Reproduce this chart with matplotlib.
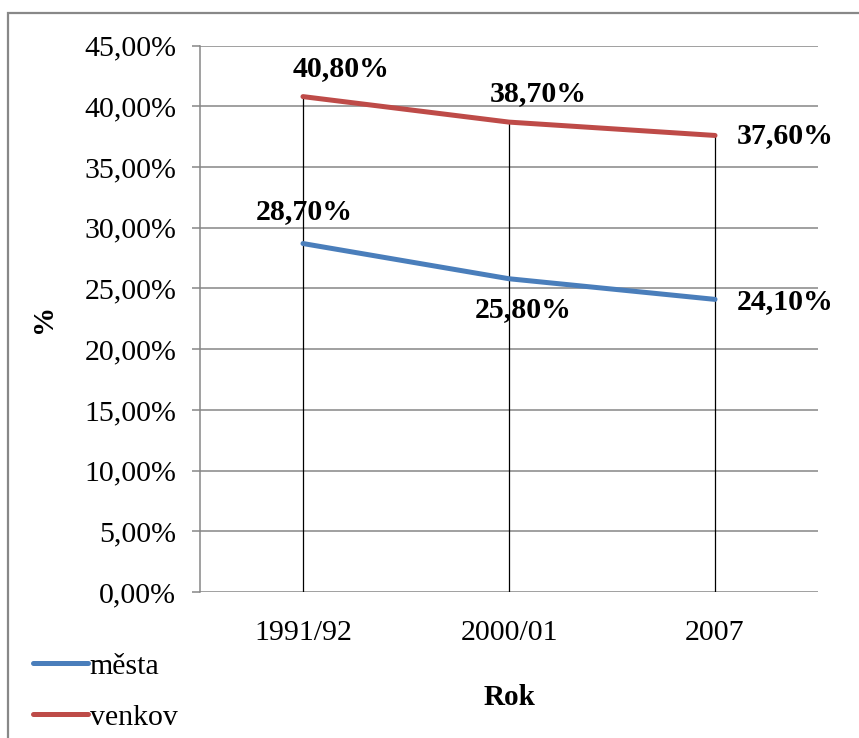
import matplotlib.pyplot as plt
from matplotlib.ticker import FuncFormatter, MultipleLocator
from matplotlib.patches import Rectangle

# data
years = ["1991/92", "2000/01", "2007"]
mesta = [28.7, 25.8, 24.1]
venkov = [40.8, 38.7, 37.6]

blue = "#4A7EBB"
red = "#BE4B48"

plt.rcParams['font.family'] = ['Liberation Serif', 'DejaVu Serif']

fig = plt.figure(figsize=(8.59, 7.38), dpi=100)
ax = fig.add_axes([0.2328, 0.1978, 0.7195, 0.7404])

x = list(range(len(years)))

#drop lines from points down to zero
for i in x:
    ax.plot([i, i], [0, venkov[i]], color="black", lw=0.9, zorder=2)

l1, = ax.plot(x, mesta, color=blue, lw=3.6, solid_capstyle='round', zorder=3)
l2, = ax.plot(x, venkov, color=red, lw=3.6, solid_capstyle='round', zorder=3)

ax.set_xlim(-0.5, 2.5)
ax.set_ylim(0, 45)
ax.yaxis.set_major_locator(MultipleLocator(5))
ax.yaxis.set_major_formatter(FuncFormatter(lambda v, p: f"{v:.2f}%".replace('.', ',')))
ax.set_xticks(x)
ax.set_xticklabels(years)

ax.grid(axis='y', color="#868686", lw=1.1)
ax.set_axisbelow(True)
for s in ["top", "right", "bottom"]:
    ax.spines[s].set_visible(False)
ax.spines["left"].set_color("#868686")
ax.spines["left"].set_linewidth(1.1)
ax.tick_params(axis='y', length=6, color="#868686", width=1.1, pad=11, labelsize=21.5)
ax.tick_params(axis='x', length=0, pad=20, labelsize=21.5)

ax.set_xlabel("Rok", fontsize=21, fontweight='bold')
ax.xaxis.set_label_coords(0.5, -0.1684)
ax.set_ylabel("%", fontsize=21, fontweight='bold')
ax.yaxis.set_label_coords(-0.2316, 0.5)

#data labels
def fmt(v):
    return f"{v:.2f}%".replace('.', ',')

offs_v = [(38, 28), (29, 29), (70, 0)]
offs_m = [(1, 32), (14, -31), (70, -2)]
for i in x:
    ax.annotate(fmt(venkov[i]), (i, venkov[i]), xytext=offs_v[i], textcoords='offset pixels',
                ha='center', va='center', fontsize=21.5, fontweight='bold', annotation_clip=False)
    ax.annotate(fmt(mesta[i]), (i, mesta[i]), xytext=offs_m[i], textcoords='offset pixels',
                ha='center', va='center', fontsize=21.5, fontweight='bold', annotation_clip=False)

fig.legend([l1, l2], ["města", "venkov"], loc='upper left', bbox_to_anchor=(33/859, 1 - 653/738),
           frameon=False, fontsize=21.5, handlelength=1.85, handletextpad=0.05,
           labelspacing=0.8, borderpad=0, borderaxespad=0)

#outer chart border
fig.patches.append(Rectangle((8/859, -0.05), 1.1, 1 - 13/738 + 0.05, transform=fig.transFigure,
                             fill=False, edgecolor="#888888", lw=1.6))

fig.savefig("out.png", dpi=100)
